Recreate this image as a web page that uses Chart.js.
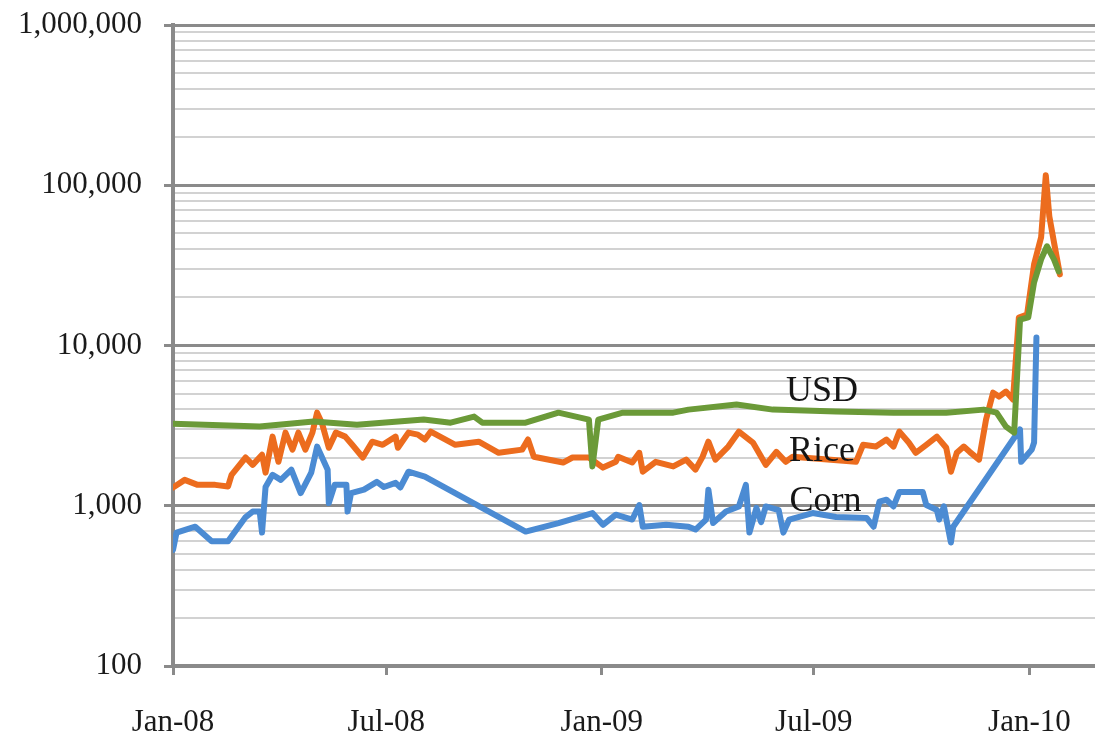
<!DOCTYPE html>
<html>
<head>
<meta charset="utf-8">
<script src="https://cdn.jsdelivr.net/npm/chart.js@4.4.1/dist/chart.umd.min.js"></script>
<style>
    html, body { margin: 0; padding: 0; background: #fff; }
    canvas { display: block; }
</style>
</head>
<body>
<canvas id="grafico" width="1095" height="743"></canvas>
<script>
const xTickDates = ['2008-01-01', '2008-07-01', '2009-01-01', '2009-07-01', '2010-01-01'];
const xTickLabels = ['Jan-08', 'Jul-08', 'Jan-09', 'Jul-09', 'Jan-10'];
const xEnd = '2010-02-26';
const yTickValues = [100, 1000, 10000, 100000, 1000000];
const yTickLabels = ['100', '1,000', '10,000', '100,000', '1,000,000'];
const seriesNames = ['USD', 'Rice', 'Corn'];

const usdDates = ['2008-01-01', '2008-03-15', '2008-04-30', '2008-06-06', '2008-08-02', '2008-08-25', '2008-09-14', '2008-09-21',
    '2008-10-28', '2008-11-25', '2008-12-21', '2008-12-24', '2008-12-29', '2009-01-19', '2009-03-03', '2009-03-16',
    '2009-04-26', '2009-05-27', '2009-07-20', '2009-09-07', '2009-10-22', '2009-11-23', '2009-12-04', '2009-12-12',
    '2009-12-19', '2009-12-24', '2009-12-31', '2010-01-05', '2010-01-11', '2010-01-16', '2010-01-22', '2010-01-26'];
const usdValues = [3250, 3120, 3350, 3200, 3450, 3300, 3600, 3300,
    3300, 3810, 3450, 1760, 3450, 3810, 3810, 3980,
    4280, 3980, 3870, 3810, 3810, 3980, 3810, 3120,
    2860, 14500, 14960, 24800, 34500, 41600, 34500, 29000];

const riceDates = ['2008-01-01', '2008-01-11', '2008-01-22', '2008-02-06', '2008-02-17', '2008-02-20', '2008-03-03', '2008-03-09',
    '2008-03-17', '2008-03-20', '2008-03-26', '2008-03-31', '2008-04-06', '2008-04-12', '2008-04-17', '2008-04-23',
    '2008-04-29', '2008-05-03', '2008-05-07', '2008-05-13', '2008-05-19', '2008-05-27', '2008-06-02', '2008-06-11',
    '2008-06-19', '2008-06-28', '2008-07-09', '2008-07-11', '2008-07-20', '2008-07-28', '2008-08-03', '2008-08-08',
    '2008-08-29', '2008-09-18', '2008-10-05', '2008-10-25', '2008-10-30', '2008-11-04', '2008-11-29', '2008-12-07',
    '2008-12-21', '2009-01-02', '2009-01-13', '2009-01-15', '2009-01-27', '2009-02-02', '2009-02-05', '2009-02-16',
    '2009-03-03', '2009-03-14', '2009-03-22', '2009-03-28', '2009-04-02', '2009-04-08', '2009-04-19', '2009-04-28',
    '2009-05-10', '2009-05-21', '2009-05-30', '2009-06-07', '2009-06-13', '2009-08-06', '2009-08-12', '2009-08-23',
    '2009-09-01', '2009-09-07', '2009-09-12', '2009-09-20', '2009-09-26', '2009-10-05', '2009-10-14', '2009-10-22',
    '2009-10-26', '2009-10-31', '2009-11-06', '2009-11-11', '2009-11-19', '2009-11-25', '2009-12-01', '2009-12-06',
    '2009-12-12', '2009-12-18', '2009-12-23', '2009-12-30', '2010-01-05', '2010-01-11', '2010-01-15', '2010-01-18',
    '2010-01-22', '2010-01-27'];
const riceValues = [1300, 1450, 1350, 1350, 1320, 1560, 2000, 1800,
    2080, 1610, 2700, 1880, 2860, 2240, 2860, 2240,
    2860, 3810, 3300, 2300, 2860, 2700, 2400, 2000,
    2510, 2400, 2700, 2300, 2860, 2780, 2590, 2900,
    2400, 2510, 2140, 2240, 2590, 2020, 1860, 2000,
    2000, 1730, 1880, 2020, 1860, 2140, 1630, 1880,
    1760, 1940, 1680, 2020, 2510, 1940, 2340, 2900,
    2480, 1800, 2170, 1880, 2020, 1880, 2400, 2340,
    2590, 2340, 2900, 2480, 2140, 2400, 2700, 2300,
    1630, 2140, 2340, 2170, 1940, 3450, 5080, 4800,
    5160, 4600, 14960, 15600, 32100, 47300, 115500, 64000,
    44000, 27800];

const cornDates = ['2008-01-01', '2008-01-04', '2008-01-20', '2008-02-03', '2008-02-17', '2008-03-03', '2008-03-09', '2008-03-15',
    '2008-03-17', '2008-03-20', '2008-03-26', '2008-04-02', '2008-04-11', '2008-04-19', '2008-04-28', '2008-05-03',
    '2008-05-12', '2008-05-13', '2008-05-18', '2008-05-28', '2008-05-29', '2008-06-01', '2008-06-12', '2008-06-23',
    '2008-06-29', '2008-07-09', '2008-07-13', '2008-07-20', '2008-08-03', '2008-10-28', '2008-11-25', '2008-12-24',
    '2009-01-02', '2009-01-13', '2009-01-27', '2009-02-02', '2009-02-05', '2009-02-25', '2009-03-16', '2009-03-22',
    '2009-03-31', '2009-04-02', '2009-04-06', '2009-04-17', '2009-04-28', '2009-05-04', '2009-05-07', '2009-05-13',
    '2009-05-17', '2009-05-21', '2009-06-01', '2009-06-05', '2009-06-10', '2009-06-30', '2009-07-20', '2009-08-15',
    '2009-08-21', '2009-08-26', '2009-09-01', '2009-09-07', '2009-09-12', '2009-10-02', '2009-10-05', '2009-10-14',
    '2009-10-16', '2009-10-20', '2009-10-26', '2009-10-28', '2009-12-18', '2009-12-24', '2009-12-25', '2010-01-03',
    '2010-01-05', '2010-01-07'];
const cornValues = [530, 680, 740, 600, 600, 850, 920, 920,
    680, 1310, 1560, 1450, 1680, 1200, 1610, 2340,
    1680, 1040, 1350, 1350, 920, 1200, 1260, 1410,
    1310, 1390, 1300, 1630, 1520, 690, 780, 900,
    760, 880, 820, 1010, 740, 760, 740, 710,
    820, 1260, 780, 920, 990, 1350, 680, 970,
    790, 990, 940, 680, 820, 900, 850, 840,
    740, 1060, 1090, 990, 1220, 1220, 1010, 940,
    820, 990, 590, 740, 2590, 2990, 1880, 2240,
    2480, 11200];

const inicio = Date.parse('2008-01-01');
function toDay(s) {
    return (Date.parse(s) - inicio) / 86400000;
}

function pares(datas, valores) {
    return datas.map((d, i) => ({ x: toDay(d), y: valores[i] }));
}

// linhas secundarias: 2..9 de cada decada
const yMinor = [];
yTickValues.slice(0, -1).forEach(d => {
    for (let k = 2; k <= 9; k++) yMinor.push(d * k);
});
const yAllTicks = yTickValues.concat(yMinor).sort((a, b) => a - b);
const ehMaior = v => yTickValues.includes(v);

const familia = '"Liberation Serif", "DejaVu Serif", serif';
const fonte = { family: familia, size: 31 };

// rótulos das séries escritos dentro do gráfico
const rotulos = {
    id: 'rotulos',
    afterDatasetsDraw(chart, args, opts) {
        const { ctx, scales: { x, y } } = chart;
        ctx.save();
        ctx.font = '36px ' + familia;
        ctx.fillStyle = '#151515';
        ctx.textAlign = 'center';
        ctx.textBaseline = 'middle';
        opts.itens.forEach(it => {
            ctx.fillText(it.texto, x.getPixelForValue(toDay(it.data)), y.getPixelForValue(it.valor));
        });
        ctx.restore();
    }
};

const ctx = document.getElementById('grafico').getContext('2d');
new Chart(ctx, {
    type: 'line',
    data: {
        datasets: [
            { label: seriesNames[0], data: pares(usdDates, usdValues), borderColor: '#6b9a38', order: 1 },
            { label: seriesNames[1], data: pares(riceDates, riceValues), borderColor: '#ec6c1e', order: 2 },
            { label: seriesNames[2], data: pares(cornDates, cornValues), borderColor: '#4b8bd3', order: 3 }
        ]
    },
    options: {
        responsive: false,
        animation: false,
        devicePixelRatio: 1,
        layout: { autoPadding: false, padding: { top: 25, right: 0, bottom: 0, left: 0 } },
        elements: {
            point: { radius: 0 },
            line: { borderWidth: 6, tension: 0, borderJoinStyle: 'round', borderCapStyle: 'round', fill: false }
        },
        plugins: {
            legend: { display: false },
            tooltip: { enabled: false },
            rotulos: {
                itens: [
                    { texto: seriesNames[0], data: '2009-07-08', valor: 5160 },
                    { texto: seriesNames[1], data: '2009-07-08', valor: 2175 },
                    { texto: seriesNames[2], data: '2009-07-11', valor: 1059 }
                ]
            }
        },
        scales: {
            x: {
                type: 'linear',
                min: 0,
                max: toDay(xEnd),
                afterBuildTicks: s => { s.ticks = xTickDates.map(d => ({ value: toDay(d) })); },
                afterFit: s => {
                    s.height = 77;
                    s.paddingLeft = 0;
                    s.paddingRight = 0;
                },
                ticks: {
                    callback: (v, i) => xTickLabels[i],
                    autoSkip: false,
                    maxRotation: 0,
                    padding: 29,
                    color: '#1a1a1a',
                    font: fonte
                },
                grid: { drawOnChartArea: false, drawTicks: true, tickLength: 9, tickWidth: 3, tickColor: '#8a8a8a' },
                border: { color: '#8a8a8a', width: 4 }
            },
            y: {
                type: 'logarithmic',
                min: 100,
                max: 1000000,
                afterBuildTicks: s => { s.ticks = yAllTicks.map(v => ({ value: v })); },
                afterFit: s => {
                    s.width = 173;
                    s.paddingTop = 0;
                    s.paddingBottom = 0;
                },
                ticks: {
                    callback: v => ehMaior(v) ? yTickLabels[yTickValues.indexOf(v)] : '',
                    autoSkip: false,
                    padding: 22,
                    color: '#1a1a1a',
                    font: fonte
                },
                grid: {
                    color: c => ehMaior(c.tick.value) ? '#8a8a8a' : '#d2d2d2',
                    lineWidth: c => ehMaior(c.tick.value) ? 3 : 2,
                    tickColor: c => ehMaior(c.tick.value) ? '#8a8a8a' : 'rgba(0,0,0,0)',
                    tickLength: 9,
                    tickWidth: 3
                },
                border: { color: '#8a8a8a', width: 4 }
            }
        }
    },
    plugins: [rotulos]
});
</script>
</body>
</html>
